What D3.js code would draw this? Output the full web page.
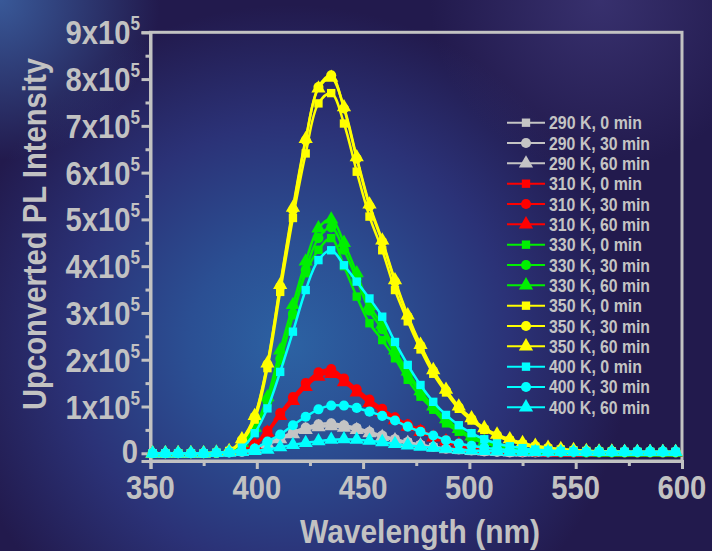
<!DOCTYPE html>
<html>
<head>
<meta charset="utf-8">
<script src="https://cdn.jsdelivr.net/npm/d3@7/dist/d3.min.js"></script>
<style>
  html, body { margin: 0; padding: 0; background: #221a4d; }
  svg { display: block; }
  text { font-family: "Liberation Sans", Arial, sans-serif; font-weight: bold; }
</style>
</head>
<body>
<svg id="chart" width="712" height="551"></svg>
<script>
// Excitation wavelength grid (nm)
const wavelengths = [351,357,363,369,375,381,387,393,399,405,411,417,423,429,435,441,447,453,459,465,471,477,483,489,495,501,507,513,519,525,531,537,543,549,555,561,567,573,579,585,591,597];

// Upconverted PL intensity, in units of 10^5 counts
const k290_0  = [0,0,0,0,0,0.01,0.02,0.03,0.09,0.20,0.31,0.42,0.52,0.58,0.60,0.57,0.52,0.44,0.36,0.29,0.23,0.17,0.13,0.10,0.07,0.05,0.04,0.03,0.02,0.02,0.02,0.02,0.02,0.02,0.02,0.02,0.02,0.02,0.02,0.02,0.02,0.02];
const k290_30 = [0,0,0,0,0,0.01,0.02,0.03,0.10,0.22,0.33,0.45,0.55,0.62,0.64,0.60,0.54,0.46,0.38,0.30,0.24,0.18,0.14,0.10,0.08,0.06,0.04,0.03,0.02,0.02,0.02,0.02,0.02,0.02,0.02,0.02,0.02,0.02,0.02,0.02,0.02,0.02];
const k290_60 = [0,0,0,0,0,0.01,0.02,0.03,0.08,0.19,0.30,0.41,0.50,0.56,0.58,0.55,0.50,0.43,0.35,0.28,0.22,0.17,0.13,0.09,0.07,0.05,0.04,0.03,0.02,0.02,0.02,0.02,0.02,0.02,0.02,0.02,0.02,0.02,0.02,0.02,0.02,0.02];

const k310_0  = [0,0,0,0,0,0.01,0.03,0.06,0.17,0.45,0.82,1.15,1.45,1.68,1.75,1.55,1.33,1.10,0.90,0.73,0.58,0.47,0.35,0.27,0.20,0.14,0.10,0.07,0.05,0.04,0.03,0.03,0.02,0.02,0.02,0.02,0.02,0.02,0.02,0.02,0.02,0.02];
const k310_30 = [0,0,0,0,0,0.01,0.03,0.07,0.20,0.48,0.86,1.20,1.50,1.73,1.80,1.60,1.37,1.15,0.95,0.77,0.62,0.50,0.37,0.28,0.20,0.14,0.10,0.07,0.05,0.04,0.03,0.03,0.02,0.02,0.02,0.02,0.02,0.02,0.02,0.02,0.02,0.02];
const k310_60 = [0,0,0,0,0,0.01,0.03,0.06,0.18,0.44,0.80,1.12,1.42,1.64,1.70,1.52,1.30,1.08,0.88,0.71,0.57,0.46,0.34,0.26,0.19,0.13,0.09,0.07,0.05,0.04,0.03,0.02,0.02,0.02,0.02,0.02,0.02,0.02,0.02,0.02,0.02,0.02];

const k330_0  = [0,0,0,0,0,0.01,0.03,0.18,0.48,1.08,1.98,2.95,3.85,4.35,4.60,4.00,3.35,2.78,2.42,2.03,1.57,1.21,0.93,0.64,0.46,0.32,0.22,0.15,0.10,0.07,0.05,0.04,0.03,0.03,0.02,0.02,0.02,0.02,0.02,0.02,0.02,0.02];
const k330_30 = [0,0,0,0,0,0.01,0.03,0.20,0.50,1.12,2.02,2.98,3.92,4.60,4.83,4.35,3.72,3.05,2.65,2.12,1.68,1.28,0.97,0.70,0.50,0.35,0.24,0.16,0.11,0.08,0.06,0.04,0.03,0.03,0.02,0.02,0.02,0.02,0.02,0.02,0.02,0.02];
const k330_60 = [0,0,0,0,0,0.01,0.03,0.22,0.55,1.20,2.20,3.17,4.10,4.81,5.00,4.50,3.85,3.15,2.75,2.20,1.75,1.33,1.00,0.73,0.52,0.36,0.25,0.17,0.12,0.08,0.06,0.05,0.04,0.03,0.03,0.02,0.02,0.02,0.02,0.02,0.02,0.02];

const k350_0  = [0,0,0,0,0,0.01,0.05,0.25,0.72,1.82,3.45,5.03,6.41,7.48,7.70,7.05,6.02,5.06,4.34,3.49,2.82,2.22,1.70,1.30,0.95,0.70,0.50,0.37,0.27,0.19,0.14,0.10,0.08,0.06,0.05,0.04,0.04,0.03,0.03,0.03,0.03,0.03];
const k350_30 = [0,0,0,0,0,0.01,0.05,0.28,0.78,1.90,3.56,5.20,6.69,7.83,8.08,7.37,6.30,5.28,4.52,3.67,2.92,2.30,1.76,1.34,0.98,0.73,0.52,0.38,0.28,0.20,0.15,0.11,0.08,0.06,0.05,0.04,0.04,0.03,0.03,0.03,0.03,0.03];
const k350_60 = [0,0,0,0,0,0.01,0.05,0.30,0.80,1.92,3.60,5.25,6.72,7.80,8.03,7.40,6.33,5.32,4.55,3.70,2.95,2.32,1.78,1.36,1.00,0.75,0.54,0.40,0.30,0.22,0.16,0.12,0.09,0.07,0.05,0.04,0.04,0.03,0.03,0.03,0.03,0.03];

const k400_0  = [0,0,0,0,0,0.01,0.02,0.12,0.43,0.96,1.74,2.60,3.49,4.13,4.34,4.02,3.67,3.31,2.92,2.38,1.89,1.46,1.10,0.82,0.60,0.43,0.30,0.21,0.15,0.11,0.08,0.06,0.05,0.04,0.03,0.03,0.03,0.03,0.03,0.03,0.03,0.03];
const k400_30 = [0,0,0,0,0,0.01,0.02,0.04,0.10,0.25,0.40,0.60,0.78,0.94,1.02,1.02,0.97,0.89,0.80,0.70,0.57,0.46,0.38,0.28,0.21,0.16,0.12,0.09,0.07,0.05,0.04,0.03,0.03,0.03,0.03,0.03,0.03,0.03,0.03,0.03,0.03,0.03];
const k400_60 = [0,0,0,0,0,0.01,0.02,0.03,0.05,0.08,0.13,0.18,0.22,0.26,0.29,0.30,0.29,0.27,0.24,0.20,0.17,0.14,0.12,0.10,0.08,0.06,0.05,0.04,0.03,0.03,0.03,0.03,0.03,0.03,0.03,0.03,0.03,0.03,0.03,0.03,0.03,0.03];

const seriesLabels = ["290 K, 0 min","290 K, 30 min","290 K, 60 min","310 K, 0 min","310 K, 30 min","310 K, 60 min","330 K, 0 min","330 K, 30 min","330 K, 60 min","350 K, 0 min","350 K, 30 min","350 K, 60 min","400 K, 0 min","400 K, 30 min","400 K, 60 min"];
const seriesData = [k290_0,k290_30,k290_60,k310_0,k310_30,k310_60,k330_0,k330_30,k330_60,k350_0,k350_30,k350_60,k400_0,k400_30,k400_60];

const xTicks = [350,400,450,500,550,600];
const yTicks = [0,1,2,3,4,5,6,7,8,9];

// Styling per temperature / time
const tempColors = ["#c4c4c4","#ff0000","#00f000","#ffff00","#00ffff"];
const timeShapes = [d3.symbolSquare, d3.symbolCircle, d3.symbolTriangle];
const shapeSize = [70, 80, 88];

const series = seriesData.map((vals, i) => ({
  label: seriesLabels[i],
  color: tempColors[Math.floor(i / 3)],
  shape: timeShapes[i % 3],
  size: shapeSize[i % 3],
  points: vals.map((v, j) => ({ x: wavelengths[j], y: v }))
}));

const svg = d3.select("#chart");
const W = 712, H = 551;
const axisColor = "#c2c2c2";

// ---- background ----
const defs = svg.append("defs");
const g1 = defs.append("radialGradient").attr("id", "glow")
  .attr("gradientUnits", "userSpaceOnUse")
  .attr("cx", 290).attr("cy", 345).attr("r", 340);
g1.append("stop").attr("offset", 0).attr("stop-color", "#2c62a3");
g1.append("stop").attr("offset", 0.3).attr("stop-color", "#2b4f93");
g1.append("stop").attr("offset", 0.65).attr("stop-color", "#2b3277");
g1.append("stop").attr("offset", 1).attr("stop-color", "#221a4d");

const g2 = defs.append("radialGradient").attr("id", "corner")
  .attr("gradientUnits", "userSpaceOnUse")
  .attr("cx", 0).attr("cy", 0).attr("r", 160);
g2.append("stop").attr("offset", 0).attr("stop-color", "#3a5c9c").attr("stop-opacity", 0.95);
g2.append("stop").attr("offset", 1).attr("stop-color", "#3a5c9c").attr("stop-opacity", 0);

const g3 = defs.append("radialGradient").attr("id", "topright")
  .attr("gradientUnits", "userSpaceOnUse")
  .attr("cx", 600).attr("cy", 0).attr("r", 170);
g3.append("stop").attr("offset", 0).attr("stop-color", "#3d3676").attr("stop-opacity", 0.8);
g3.append("stop").attr("offset", 1).attr("stop-color", "#3d3676").attr("stop-opacity", 0);

svg.append("rect").attr("width", W).attr("height", H).attr("fill", "#221a4d");
svg.append("rect").attr("width", W).attr("height", H).attr("fill", "url(#glow)");
svg.append("rect").attr("width", W).attr("height", H).attr("fill", "url(#corner)");
svg.append("rect").attr("width", W).attr("height", H).attr("fill", "url(#topright)");

// ---- scales ----
const x = d3.scaleLinear().domain([350, 600]).range([150.5, 682]);
const y = d3.scaleLinear().domain([-0.165, 9]).range([461, 32.3]);

// ---- frame ----
svg.append("rect")
  .attr("x", x(350)).attr("y", y(9))
  .attr("width", x(600) - x(350)).attr("height", y(-0.165) - y(9))
  .attr("fill", "none").attr("stroke", axisColor).attr("stroke-width", 3);

// ---- axes ----
const xAxis = svg.append("g").attr("transform", `translate(0,${y(-0.165)})`)
  .call(d3.axisBottom(x).tickValues(d3.range(350, 601, 25)).tickSize(8).tickFormat(""));
xAxis.select(".domain").attr("stroke", axisColor).attr("stroke-width", 3);
xAxis.selectAll(".tick line").attr("stroke", axisColor).attr("stroke-width", 3)
  .attr("y2", d => (d % 50 === 0 ? 8 : 5));

const yAxis = svg.append("g").attr("transform", `translate(${x(350)},0)`)
  .call(d3.axisLeft(y).tickValues(d3.range(0, 9.01, 0.5)).tickSize(9).tickFormat(""));
yAxis.select(".domain").attr("stroke", axisColor).attr("stroke-width", 3);
yAxis.selectAll(".tick line").attr("stroke", axisColor).attr("stroke-width", 3)
  .attr("x2", d => (Math.abs(d - Math.round(d)) < 1e-6 ? -9 : -5));

// tick labels
svg.append("g").selectAll("text").data(xTicks).join("text")
  .attr("transform", d => `translate(${x(d)},499) scale(0.86,1)`)
  .attr("text-anchor", "middle")
  .attr("font-size", 34)
  .attr("fill", axisColor)
  .text(d => d);

const yLab = svg.append("g").selectAll("text").data(yTicks).join("text")
  .attr("transform", d => `translate(${d === 0 ? 138 : 140},${y(d) + (d === 0 ? 10 : 12)}) scale(0.86,1)`)
  .attr("text-anchor", "end")
  .attr("font-size", 34)
  .attr("fill", axisColor);
yLab.each(function (d) {
  const t = d3.select(this);
  if (d === 0) { t.text("0"); return; }
  t.append("tspan").text(d + "x10");
  t.append("tspan").attr("font-size", 20).attr("dy", -14).text("5");
});

// axis titles
svg.append("text")
  .attr("x", 420).attr("y", 543)
  .attr("text-anchor", "middle")
  .attr("font-size", 33)
  .attr("textLength", 240).attr("lengthAdjust", "spacingAndGlyphs")
  .attr("fill", axisColor)
  .text("Wavelength (nm)");

svg.append("text")
  .attr("transform", "translate(46,234) rotate(-90)")
  .attr("text-anchor", "middle")
  .attr("font-size", 34)
  .attr("textLength", 352).attr("lengthAdjust", "spacingAndGlyphs")
  .attr("fill", axisColor)
  .text("Upconverted PL Intensity");

// ---- data ----
const line = d3.line().x(d => x(d.x)).y(d => y(d.y)).curve(d3.curveCatmullRom.alpha(0.5));
const plot = svg.append("g");
series.forEach(s => {
  const g = plot.append("g");
  g.append("path").attr("d", line(s.points))
    .attr("fill", "none").attr("stroke", s.color).attr("stroke-width", 2.5);
  g.selectAll("path.m").data(s.points).join("path").attr("class", "m")
    .attr("transform", d => `translate(${x(d.x)},${y(d.y)})`)
    .attr("d", d3.symbol().type(s.shape).size(s.size))
    .attr("fill", s.color);
});

// ---- legend ----
const legend = svg.append("g");
series.forEach((s, i) => {
  const ly = 122.7 + i * 20.33;
  const row = legend.append("g").attr("transform", `translate(0,${ly})`);
  row.append("line").attr("x1", 507).attr("x2", 545).attr("y1", 0).attr("y2", 0)
    .attr("stroke", s.color).attr("stroke-width", 2);
  row.append("path").attr("transform", "translate(526,0)")
    .attr("d", d3.symbol().type(s.shape).size(s.size)).attr("fill", s.color);
  row.append("text").attr("x", 549).attr("y", 6.5)
    .attr("font-size", 17.5).attr("fill", "#c4c4c4")
    .attr("textLength", s.label.length === 12 ? 93 : 101).attr("lengthAdjust", "spacingAndGlyphs")
    .text(s.label);
});
</script>
</body>
</html>
